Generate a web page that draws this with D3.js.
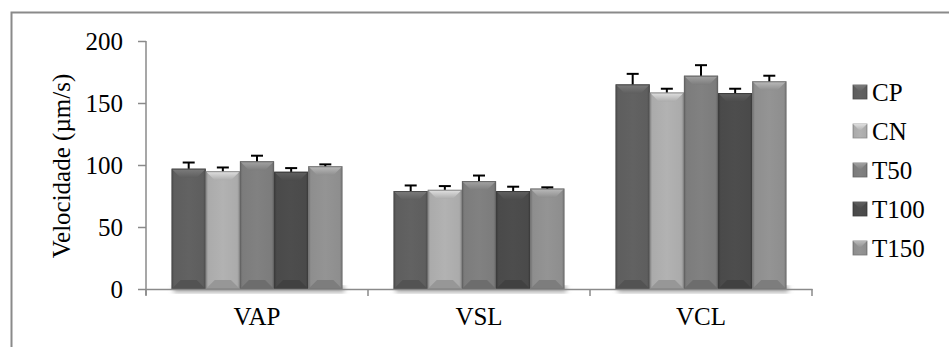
<!DOCTYPE html>
<html><head><meta charset="utf-8">
<script src="https://cdn.jsdelivr.net/npm/d3@7"></script>
<style>
html,body{margin:0;padding:0;background:#fff;overflow:hidden}
svg text{font-family:"Times New Roman",Times,"Liberation Serif","DejaVu Serif",serif !important;fill:#000}
</style></head>
<body><svg id="c" width="949" height="347"></svg>
<script>
const categories = ["VAP","VSL","VCL"];
const seriesNames = ["CP","CN","T50","T100","T150"];
const valCP   = [97, 79, 165];
const valCN   = [95, 80, 158.5];
const valT50  = [103, 87, 172];
const valT100 = [94.5, 79, 158];
const valT150 = [99, 81, 167.5];
const errCP   = [5, 4.5, 8.5];
const errCN   = [3, 3, 3];
const errT50  = [4.5, 4.5, 8.5];
const errT100 = [3, 3.5, 3.5];
const errT150 = [1.5, 1, 4.5];
const yTicks = [0, 50, 100, 150, 200];
const colors = ["#5e5e5e", "#ababab", "#7c7c7c", "#4a4a4a", "#8e8e8e"];

const values = [valCP, valCN, valT50, valT100, valT150];
const errors = [errCP, errCN, errT50, errT100, errT150];
const FONT = '"Times New Roman", Times, "Liberation Serif", "DejaVu Serif", serif';

const svg = d3.select("#c");
const defs = svg.append("defs");

svg.append("rect").attr("x", 11.5).attr("y", 12.5).attr("width", 960).attr("height", 360)
  .attr("fill", "none").attr("stroke", "#8a8a8a").attr("stroke-width", 2);

const x0 = d3.scaleBand().domain(categories).range([146, 812]).padding(0);
const x1 = d3.scaleBand().domain(seriesNames).range([0, x0.bandwidth()]).paddingInner(0).paddingOuter(0.75);
const y = d3.scaleLinear().domain([0, 200]).range([289, 41]);

colors.forEach((c, i) => {
  const g = defs.append("linearGradient").attr("id", "g" + i).attr("x1", 0).attr("x2", 1).attr("y1", 0).attr("y2", 0);
  const base = d3.color(c);
  g.append("stop").attr("offset", "0%").attr("stop-color", base.darker(0.5));
  g.append("stop").attr("offset", "8%").attr("stop-color", base);
  g.append("stop").attr("offset", "50%").attr("stop-color", base.brighter(0.12));
  g.append("stop").attr("offset", "92%").attr("stop-color", base);
  g.append("stop").attr("offset", "100%").attr("stop-color", base.darker(0.5));
  const t = defs.append("linearGradient").attr("id", "t" + i).attr("x1", 0).attr("x2", 0).attr("y1", 0).attr("y2", 1);
  t.append("stop").attr("offset", "0%").attr("stop-color", base.brighter(0.9));
  t.append("stop").attr("offset", "100%").attr("stop-color", base);
});
const sh = defs.append("filter").attr("id", "sh").attr("x", "-10%").attr("y", "-10%").attr("width", "130%").attr("height", "130%");
sh.append("feGaussianBlur").attr("stdDeviation", 2.5);

categories.forEach(cat => {
  svg.append("rect").attr("x", x0(cat) + x1(seriesNames[0]) + 2).attr("y", 286)
    .attr("width", x1.bandwidth() * 5).attr("height", 6)
    .attr("fill", "#9a9a9a").attr("filter", "url(#sh)");
});

const bev = 9;
seriesNames.forEach((s, si) => {
  categories.forEach((cat, ci) => {
    const bx = x0(cat) + x1(s), bw = x1.bandwidth();
    const by = y(values[si][ci]), bh = y(0) - by;
    const g = svg.append("g");
    g.append("rect").attr("x", bx).attr("y", by).attr("width", bw).attr("height", bh)
      .attr("fill", `url(#g${si})`);
    g.append("path").attr("d", `M${bx},${by}L${bx + bw},${by}L${bx + bw - bev},${by + bev}L${bx + bev},${by + bev}Z`)
      .attr("fill", `url(#t${si})`).attr("opacity", 0.85);
    g.append("path").attr("d", `M${bx},${by + bh}L${bx + bw},${by + bh}L${bx + bw - bev},${by + bh - bev}L${bx + bev},${by + bh - bev}Z`)
      .attr("fill", d3.color(colors[si]).darker(0.35));
    g.append("rect").attr("x", bx + 0.5).attr("y", by + 0.5).attr("width", bw - 1).attr("height", bh - 1)
      .attr("fill", "none").attr("stroke", d3.color(colors[si]).darker(0.6)).attr("stroke-width", 1);
    const cx = bx + bw / 2, ey = y(values[si][ci] + errors[si][ci]);
    g.append("line").attr("x1", cx).attr("x2", cx).attr("y1", by).attr("y2", ey).attr("stroke", "#000").attr("stroke-width", 2);
    g.append("line").attr("x1", cx - 6).attr("x2", cx + 6).attr("y1", ey).attr("y2", ey).attr("stroke", "#000").attr("stroke-width", 2);
  });
});

const yAxis = d3.axisLeft(y).tickValues(yTicks).tickSize(8).tickSizeOuter(0).tickPadding(15);
const ya = svg.append("g").attr("transform", "translate(146,0)").call(yAxis).attr("font-family", FONT);
ya.select(".domain").attr("stroke", "#8a8a8a").attr("stroke-width", 1.5).attr("d", "M0,41V295");
ya.selectAll(".tick line").attr("stroke", "#8a8a8a").attr("stroke-width", 1.5);
ya.selectAll(".tick text").attr("font-size", 25).style("font-family", FONT).attr("fill", "#000");

const xAxis = d3.axisBottom(x0).tickSize(0).tickPadding(18);
const xa = svg.append("g").attr("transform", "translate(0,289)").call(xAxis).attr("font-family", FONT);
xa.select(".domain").attr("stroke", "#8a8a8a").attr("stroke-width", 1.5);
xa.selectAll(".tick text").attr("font-size", 25).style("font-family", FONT).attr("fill", "#000");
const bounds = categories.map(c => x0(c)).concat([x0.range()[1]]);
svg.append("g").selectAll("line").data(bounds).join("line")
  .attr("x1", d => d).attr("x2", d => d).attr("y1", 289).attr("y2", 296)
  .attr("stroke", "#8a8a8a").attr("stroke-width", 1.5);

svg.append("text").attr("transform", "translate(70,166) rotate(-90)")
  .attr("text-anchor", "middle").attr("font-size", 25).style("font-family", FONT).text("Velocidade (µm/s)");

const leg = svg.append("g");
seriesNames.forEach((s, i) => {
  const cy = 92 + i * 39;
  leg.append("rect").attr("x", 853).attr("y", cy - 7).attr("width", 14).attr("height", 14)
    .attr("fill", `url(#g${i})`).attr("stroke", d3.color(colors[i]).darker(0.5)).attr("stroke-width", 0.8);
  leg.append("path").attr("d", `M853,${cy - 7}L867,${cy - 7}L860,${cy}Z`).attr("fill", `url(#t${i})`).attr("opacity", 0.8);
  leg.append("text").attr("x", 872).attr("y", cy + 9).attr("font-size", 25).style("font-family", FONT).text(s);
});
</script></body></html>
